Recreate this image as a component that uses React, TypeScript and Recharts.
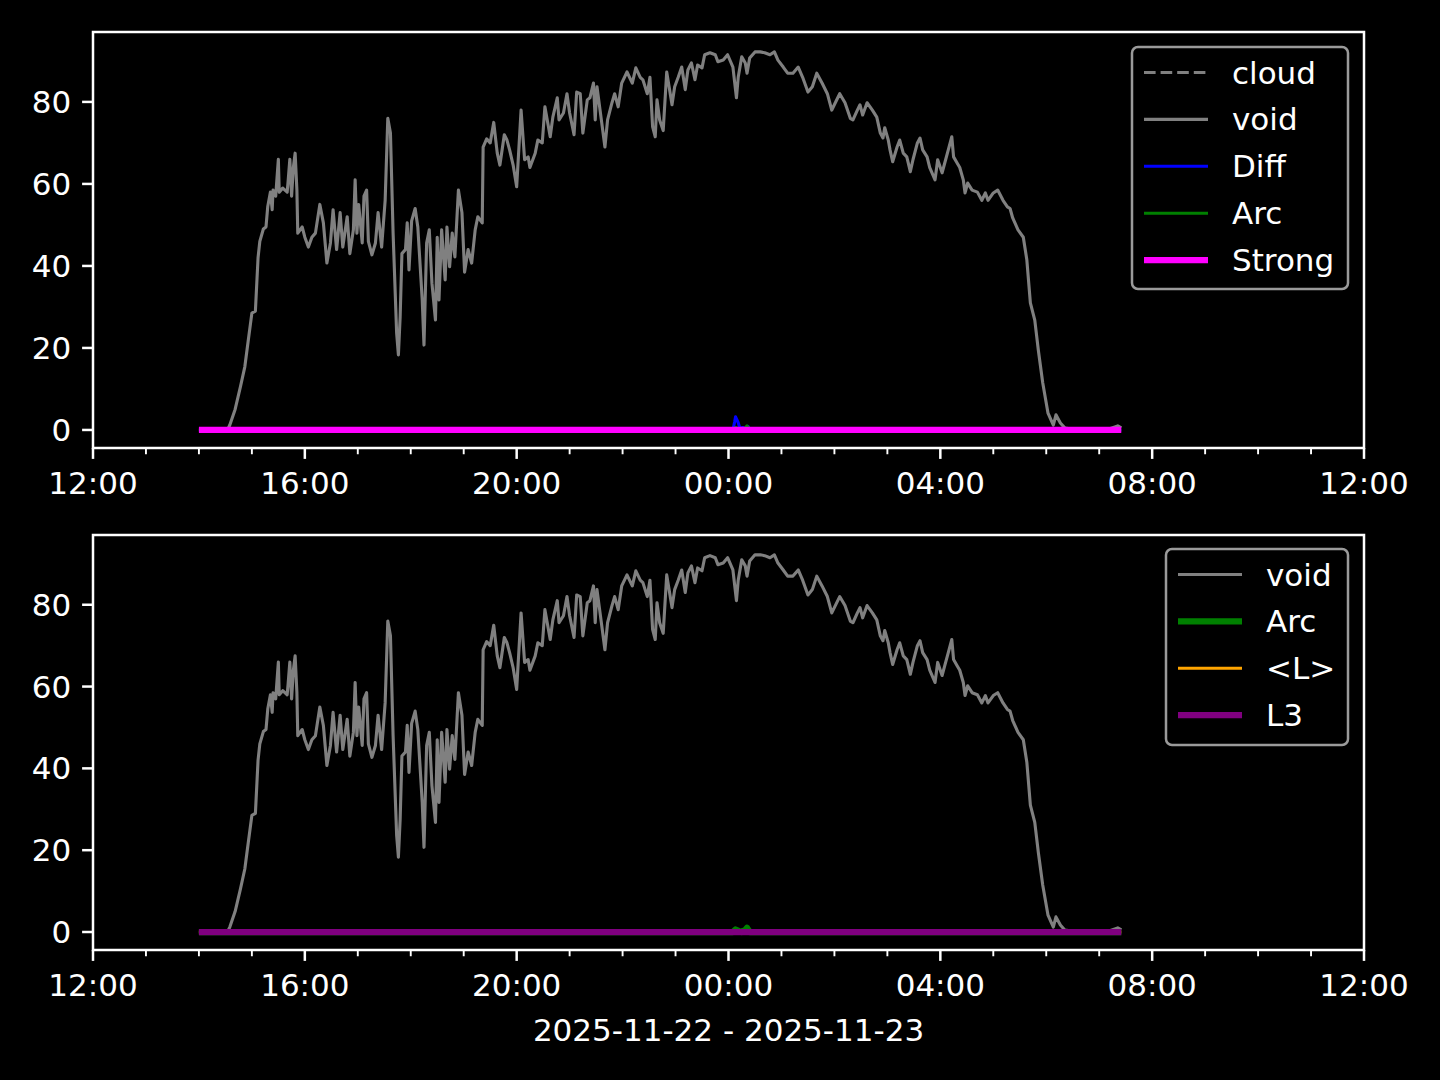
import React from "react";
import { LineChart, Line, XAxis, YAxis, ReferenceArea } from "recharts";

// time axis: minutes after 2025-11-22 12:00
const voidMinutes = [
  120, 138, 153, 155, 161, 167, 172, 176, 180, 184, 187, 189, 193, 196, 198, 201, 203, 204, 207, 210,
  211, 215, 220, 221, 223, 225, 227, 229, 231, 232, 237, 240, 244, 248, 252, 257, 261, 265, 269, 272,
  276, 280, 283, 288, 291, 295, 297, 299, 301, 305, 307, 310, 312, 316, 320, 323, 327, 331, 334, 337,
  340, 344, 346, 348, 350, 354, 356, 358, 361, 365, 368, 373, 375, 378, 381, 384, 388, 390, 392, 395,
  399, 401, 404, 407, 410, 414, 418, 421, 425, 429, 433, 436, 441, 442, 446, 450, 454, 458, 461, 466,
  469, 472, 476, 480, 485, 489, 493, 495, 501, 504, 509, 512, 518, 521, 526, 528, 533, 537, 540, 545,
  548, 552, 555, 560, 563, 567, 569, 571, 574, 580, 583, 588, 591, 595, 599, 605, 611, 615, 620, 623,
  628, 631, 634, 637, 639, 642, 646, 650, 656, 659, 663, 667, 671, 674, 678, 682, 685, 690, 693, 699,
  705, 708, 714, 719, 725, 729, 731, 735, 739, 741, 744, 750, 756, 761, 767, 772, 776, 782, 787, 793,
  799, 804, 810, 815, 820, 826, 832, 837, 841, 846, 852, 858, 861, 866, 869, 872, 877, 883, 888, 892,
  895, 897, 901, 903, 906, 911, 914, 918, 922, 926, 929, 934, 937, 940, 945, 948, 954, 957, 962, 965,
  969, 973, 975, 979, 982, 986, 988, 991, 996, 1002, 1007, 1011, 1014, 1020, 1025, 1031, 1036, 1039, 1042, 1048,
  1054, 1058, 1062, 1067, 1071, 1076, 1082, 1088, 1091, 1096, 1101, 1107, 1130, 1152, 1161, 1165,
];
const voidValues = [
  0, 0, 0.3, 1.2, 5, 10.5, 15.4, 22, 28.5, 29, 42, 46, 49, 49.5, 54.5, 58, 53.7, 58.5, 57, 66,
  58, 59, 58, 60.5, 66, 57, 64, 67.5, 58.5, 48, 49.5, 47, 44.6, 47, 48, 55, 50.5, 40.7, 45.6, 53.7,
  44, 53, 44.6, 52, 43, 48.8, 61, 48, 55, 45.6, 57, 58.5, 46, 42.7, 45.6, 53, 44.6, 56, 76, 72.4,
  48, 23.7, 18.3, 27.6, 43, 44, 50.5, 39, 51, 54, 49.5, 31.7, 20.7, 45.6, 48.8, 35.8, 26.8, 47, 31.7, 48.8,
  36.6, 49.5, 39.8, 48, 42.2, 58.5, 53, 38.5, 44, 40.7, 48.8, 52, 50.5, 69, 71, 70, 75, 67.5, 64.6, 72,
  70.7, 68.3, 64.6, 59.3, 78, 65.9, 66.6, 64, 67.5, 70.7, 70, 78.8, 71.5, 76.3, 81, 75.6, 77.3, 82, 77.3, 72,
  82.4, 82, 72.4, 80.5, 81, 84.6, 75.6, 83.7, 78.8, 69, 75.6, 79.8, 82, 78.8, 84.6, 87.3, 84.6, 88.3, 86, 85.4,
  82, 86, 74, 71.5, 80.5, 75.6, 73, 87.3, 79.3, 83.7, 86, 88.5, 83, 87.8, 89.5, 85.4, 89, 88.3, 91.5, 92,
  91.5, 89.8, 90.2, 91.5, 88.5, 81, 86, 91, 89.5, 87, 90.7, 92.2, 92.2, 92, 91.5, 92.2, 90.2, 88.5, 87, 87,
  88.5, 86, 82.4, 83.7, 87, 84.6, 82, 78, 79.8, 82, 79.8, 76, 75.6, 78, 79.3, 76.8, 79.8, 78, 76.3, 72.4,
  71.2, 73.7, 70.7, 68.3, 65.4, 69, 70.7, 67.5, 66.6, 63, 65.9, 70, 71.2, 68.3, 66.6, 64, 61, 65.9, 62.7, 65.1,
  68.3, 71.5, 66.6, 65.1, 64, 61, 57.8, 60.2, 58.5, 58, 56, 57.8, 56, 57.8, 58.5, 56, 54.4, 54, 51.7, 48.8,
  47, 41.5, 31, 26.8, 19.5, 11.5, 4.1, 1.2, 3.7, 1.7, 0.5, 0.3, 0.2, 0.3, 1.0, 0.5,
];

const diffMinutes = [120, 725, 727, 728, 731, 733, 736, 740, 742, 744, 1165];
const diffValues = [0, 0, 2, 3.2, 1.8, 0.3, 0.6, 0.2, 0.9, 0, 0];

const arcMinutes = [120, 725, 728, 732, 735, 739, 741, 744, 1165];
const arcValues = [0, 0, 0.6, 0.2, 0, 0.5, 1.0, 0, 0];

const flatMinutes = [120, 1165];
const strongValues = [0, 0];
const lMeanValues = [0, 0];
const l3Values = [0, 0];

const hourTicks = [
  0, 60, 120, 180, 240, 300, 360, 420, 480, 540, 600, 660, 720,
  780, 840, 900, 960, 1020, 1080, 1140, 1200, 1260, 1320, 1380, 1440,
];
const majorTicks = [0, 240, 480, 720, 960, 1200, 1440];
const majorLabels = ["12:00", "16:00", "20:00", "00:00", "04:00", "08:00", "12:00"];
const yTicks = [0, 20, 40, 60, 80];
const Y_DOMAIN: [number, number] = [-4.4, 97.05];

const FONT = "'DejaVu Sans', sans-serif";
const FS = 31;

type Series = {
  key: string;
  name: string;
  color: string;
  width: number;
  dash?: string;
  minutes?: number[];
  values?: number[];
};

const topSeries: Series[] = [
  { key: "cloud", name: "cloud", color: "#808080", width: 3.1, dash: "11.6 5" },
  { key: "void", name: "void", color: "#808080", width: 3.1, minutes: voidMinutes, values: voidValues },
  { key: "diff", name: "Diff", color: "#0000ff", width: 3.1, minutes: diffMinutes, values: diffValues },
  { key: "arc", name: "Arc", color: "#008000", width: 3.1, minutes: arcMinutes, values: arcValues },
  { key: "strong", name: "Strong", color: "#ff00ff", width: 6.25, minutes: flatMinutes, values: strongValues },
];

const bottomSeries: Series[] = [
  { key: "void", name: "void", color: "#808080", width: 3.1, minutes: voidMinutes, values: voidValues },
  { key: "arc", name: "Arc", color: "#008000", width: 6.25, minutes: arcMinutes, values: arcValues },
  { key: "lmean", name: "<L>", color: "#ffa500", width: 3.1, minutes: flatMinutes, values: lMeanValues },
  { key: "l3", name: "L3", color: "#800080", width: 6.25, minutes: flatMinutes, values: l3Values },
];

type Row = { t: number; [k: string]: number };

function buildRows(series: Series[]): Row[] {
  const byT = new Map<number, Row>();
  for (const s of series) {
    if (!s.minutes || !s.values) continue;
    s.minutes.forEach((t, i) => {
      const row = byT.get(t) || { t };
      row[s.key] = s.values![i];
      byT.set(t, row);
    });
  }
  return [...byT.values()].sort((a, b) => a.t - b.t);
}

function XTick(props: any) {
  const { x, y, payload } = props;
  const idx = majorTicks.indexOf(payload.value);
  const major = idx >= 0;
  return (
    <g>
      <line
        x1={x}
        x2={x}
        y1={y}
        y2={y + (major ? 10.9 : 6.25)}
        stroke="#fff"
        strokeWidth={major ? 2.5 : 1.9}
      />
      {major && (
        <text
          x={x}
          y={y + 35}
          textAnchor="middle"
          dominantBaseline="central"
          fill="#fff"
          fontSize={FS}
          fontFamily={FONT}
        >
          {majorLabels[idx]}
        </text>
      )}
    </g>
  );
}

function YTick(props: any) {
  const { x, y, payload } = props;
  return (
    <g>
      <line x1={x - 10.9} x2={x} y1={y} y2={y} stroke="#fff" strokeWidth={2.5} />
      <text
        x={x - 21.8}
        y={y}
        textAnchor="end"
        dominantBaseline="central"
        fill="#fff"
        fontSize={FS}
        fontFamily={FONT}
      >
        {payload.value}
      </text>
    </g>
  );
}

function LegendBox({
  series,
  left,
  top,
  width,
  height,
}: {
  series: Series[];
  left: number;
  top: number;
  width: number;
  height: number;
}) {
  return (
    <svg
      width={width + 4}
      height={height + 4}
      style={{ position: "absolute", left: left - 2, top: top - 2 }}
    >
      <rect
        x={2}
        y={2}
        width={width}
        height={height}
        rx={6}
        fill="#000"
        stroke="#9a9a9a"
        strokeWidth={2.5}
      />
      {series.map((s, i) => {
        const cy = 2 + 25.5 + i * 46.9;
        return (
          <g key={s.key}>
            <line
              x1={2 + 12}
              x2={2 + 76}
              y1={cy}
              y2={cy}
              stroke={s.color}
              strokeWidth={s.width}
              strokeDasharray={s.dash}
            />
            <text
              x={2 + 100}
              y={cy}
              dominantBaseline="central"
              fill="#fff"
              fontSize={FS}
              fontFamily={FONT}
            >
              {s.name}
            </text>
          </g>
        );
      })}
    </svg>
  );
}

function Panel({
  series,
  top,
  height,
  marginTop,
  axisHeight,
}: {
  series: Series[];
  top: number;
  height: number;
  marginTop: number;
  axisHeight: number;
}) {
  const rows = buildRows(series);
  return (
    <div style={{ position: "absolute", left: 0, top }}>
      <LineChart
        width={1440}
        height={height}
        data={rows}
        margin={{ top: marginTop, right: 76, bottom: 0, left: 0 }}
      >
        <XAxis
          dataKey="t"
          type="number"
          domain={[0, 1440]}
          ticks={hourTicks}
          interval={0}
          allowDataOverflow
          axisLine={false}
          tickLine={false}
          tickSize={0}
          tickMargin={0}
          height={axisHeight}
          tick={<XTick />}
        />
        <YAxis
          type="number"
          domain={Y_DOMAIN}
          ticks={yTicks}
          interval={0}
          allowDataOverflow
          axisLine={false}
          tickLine={false}
          tickSize={0}
          tickMargin={0}
          width={93}
          tick={<YTick />}
        />
        {series
          .filter((s) => s.minutes)
          .map((s) => (
            <Line
              key={s.key}
              dataKey={s.key}
              name={s.name}
              type="linear"
              stroke={s.color}
              strokeWidth={s.width}
              dot={false}
              activeDot={false}
              connectNulls
              strokeLinejoin="round"
              isAnimationActive={false}
            />
          ))}
        <ReferenceArea
          x1={0}
          x2={1440}
          y1={Y_DOMAIN[0]}
          y2={Y_DOMAIN[1]}
          fill="none"
          stroke="#fff"
          strokeWidth={2.5}
          ifOverflow="visible"
        />
      </LineChart>
    </div>
  );
}

export default function App() {
  return (
    <div
      style={{
        position: "absolute",
        left: 0,
        top: 0,
        width: 1440,
        height: 1080,
        background: "#000",
        overflow: "hidden",
        fontFamily: FONT,
      }}
    >
      <Panel series={topSeries} top={0} height={500} marginTop={32} axisHeight={52} />
      <Panel series={bottomSeries} top={500} height={540} marginTop={35} axisHeight={90} />
      <LegendBox series={topSeries} left={1132} top={47} width={216} height={242} />
      <LegendBox series={bottomSeries} left={1166} top={549} width={182} height={196} />
      <div
        style={{
          position: "absolute",
          left: 0,
          width: 1457,
          top: 1030 - 20,
          height: 40,
          lineHeight: "40px",
          textAlign: "center",
          color: "#fff",
          fontSize: FS,
          fontFamily: FONT,
        }}
      >
        2025-11-22 - 2025-11-23
      </div>
    </div>
  );
}
